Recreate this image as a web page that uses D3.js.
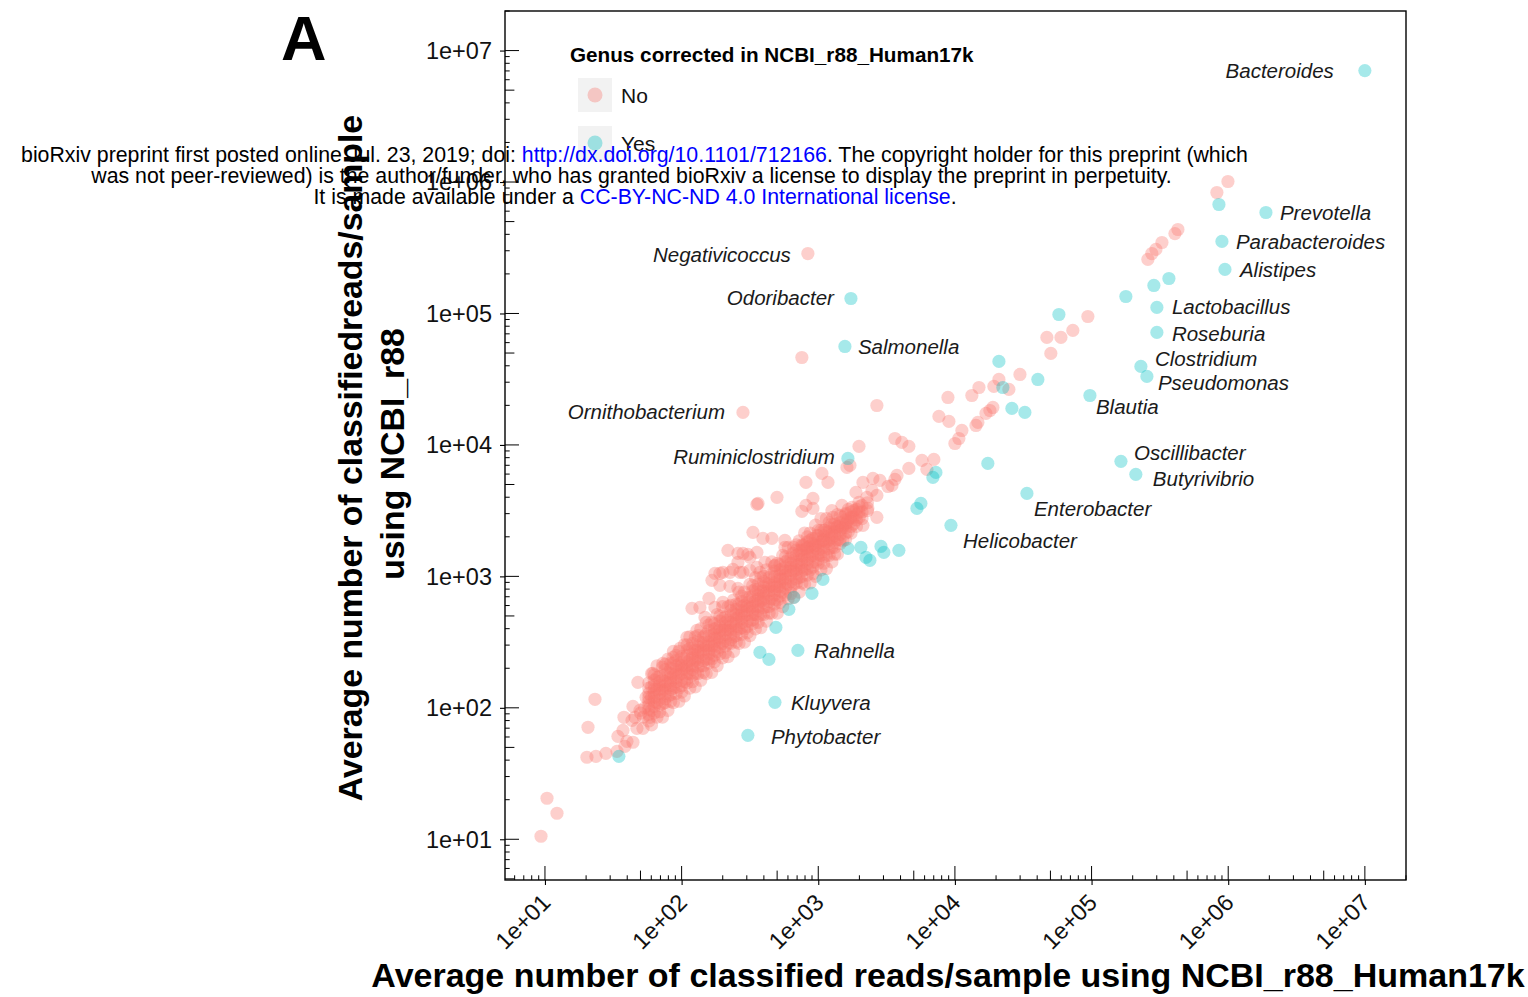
<!DOCTYPE html>
<html>
<head>
<meta charset="utf-8">
<script src="https://cdn.jsdelivr.net/npm/d3@7"></script>
<style>
  body { margin: 0; background: #fff; }
  svg { display: block; }
  text { font-family: "Liberation Sans", Arial, Helvetica, sans-serif; }
</style>
</head>
<body>
<svg id="chart" width="1528" height="997"></svg>
<script>
// Average classified reads per sample, genus level, stored as log10 values.
// x: NCBI_r88_Human17k database, y: NCBI_r88 database.

const decadeTicks = [1e1, 1e2, 1e3, 1e4, 1e5, 1e6, 1e7];
const decadeLabels = ["1e+01", "1e+02", "1e+03", "1e+04", "1e+05", "1e+06", "1e+07"];

const groupNames = ["No", "Yes"];
const groupColors = ["#F8766D", "#00BFC4"];

// Dense band of uncorrected genera: [log10 Human17k, [log10 r88 ...]]
const noBandLog10 = [
  [1.70, [1.96]], [1.72, [1.93]], [1.73, [2.00]], [1.74, [2.08]],
  [1.76, [1.90, 1.95, 1.99, 2.02, 2.05, 2.08, 2.11, 2.15, 2.19]],
  [1.78, [1.87, 1.98, 2.08, 2.16, 2.26]],
  [1.80, [1.96, 2.01, 2.05, 2.08, 2.11, 2.14, 2.17, 2.21, 2.25]],
  [1.82, [1.93, 2.04, 2.14, 2.23, 2.32]],
  [1.84, [1.97, 2.02, 2.06, 2.11, 2.14, 2.17, 2.20, 2.24]],
  [1.86, [1.93, 2.03, 2.13, 2.21, 2.31]],
  [1.88, [2.04, 2.07, 2.11, 2.14, 2.17, 2.20, 2.25, 2.29, 2.33]],
  [1.90, [1.98, 2.09, 2.19, 2.27, 2.37]],
  [1.92, [2.05, 2.10, 2.14, 2.17, 2.20, 2.23, 2.26, 2.30, 2.34]],
  [1.94, [2.04, 2.15, 2.25, 2.34, 2.43]],
  [1.96, [2.11, 2.16, 2.20, 2.23, 2.26, 2.29, 2.32, 2.36, 2.40]],
  [1.98, [2.05, 2.15, 2.25, 2.33, 2.43]],
  [2.00, [2.12, 2.17, 2.21, 2.26, 2.29, 2.32, 2.35, 2.39]],
  [2.02, [2.09, 2.20, 2.30, 2.38, 2.48]],
  [2.04, [2.19, 2.22, 2.26, 2.29, 2.32, 2.35, 2.40, 2.44, 2.48]],
  [2.06, [2.15, 2.26, 2.36, 2.45, 2.54]],
  [2.08, [2.20, 2.25, 2.29, 2.32, 2.35, 2.38, 2.41, 2.45, 2.49]],
  [2.10, [2.16, 2.26, 2.36, 2.44, 2.54]],
  [2.12, [2.26, 2.31, 2.35, 2.38, 2.41, 2.44, 2.47, 2.51, 2.55]],
  [2.14, [2.21, 2.32, 2.42, 2.50, 2.60]],
  [2.16, [2.27, 2.32, 2.36, 2.41, 2.44, 2.47, 2.50, 2.54]],
  [2.18, [2.26, 2.37, 2.47, 2.56, 2.65]],
  [2.20, [2.34, 2.37, 2.41, 2.44, 2.47, 2.50, 2.55, 2.59, 2.63]],
  [2.22, [2.27, 2.37, 2.47, 2.55, 2.65]],
  [2.24, [2.35, 2.40, 2.44, 2.47, 2.50, 2.53, 2.56, 2.60, 2.64]],
  [2.26, [2.32, 2.43, 2.53, 2.61, 2.71]],
  [2.28, [2.41, 2.46, 2.50, 2.53, 2.56, 2.59, 2.62, 2.66, 2.70]],
  [2.30, [2.38, 2.49, 2.59, 2.68, 2.77]],
  [2.32, [2.42, 2.47, 2.51, 2.56, 2.59, 2.62, 2.65, 2.69]],
  [2.34, [2.39, 2.49, 2.59, 2.67, 2.77]],
  [2.36, [2.49, 2.52, 2.56, 2.59, 2.62, 2.65, 2.70, 2.74, 2.78]],
  [2.38, [2.43, 2.54, 2.64, 2.72, 2.82]],
  [2.40, [2.50, 2.55, 2.59, 2.62, 2.65, 2.68, 2.71, 2.75, 2.79]],
  [2.42, [2.49, 2.60, 2.70, 2.79, 2.88]],
  [2.44, [2.56, 2.61, 2.65, 2.68, 2.71, 2.74, 2.77, 2.81, 2.85]],
  [2.46, [2.50, 2.60, 2.70, 2.78, 2.88]],
  [2.48, [2.57, 2.62, 2.66, 2.71, 2.74, 2.77, 2.80, 2.84]],
  [2.50, [2.55, 2.66, 2.76, 2.84, 2.94]],
  [2.52, [2.64, 2.67, 2.71, 2.74, 2.77, 2.80, 2.85, 2.89, 2.93]],
  [2.54, [2.60, 2.71, 2.81, 2.90, 2.99]],
  [2.56, [2.65, 2.70, 2.74, 2.77, 2.80, 2.83, 2.86, 2.90, 2.94]],
  [2.58, [2.61, 2.71, 2.81, 2.89, 2.99]],
  [2.60, [2.71, 2.76, 2.80, 2.83, 2.86, 2.89, 2.92, 2.96, 3.00]],
  [2.62, [2.66, 2.77, 2.87, 2.95, 3.05]],
  [2.64, [2.72, 2.77, 2.81, 2.86, 2.89, 2.92, 2.95, 2.99]],
  [2.66, [2.72, 2.83, 2.93, 3.02, 3.11]],
  [2.68, [2.79, 2.82, 2.86, 2.89, 2.92, 2.95, 3.00, 3.04, 3.08]],
  [2.70, [2.72, 2.82, 2.92, 3.00, 3.10]],
  [2.72, [2.80, 2.85, 2.89, 2.92, 2.95, 2.98, 3.01, 3.05, 3.09]],
  [2.74, [2.77, 2.88, 2.98, 3.06, 3.16]],
  [2.76, [2.86, 2.91, 2.95, 2.98, 3.01, 3.04, 3.07, 3.11, 3.15]],
  [2.78, [2.83, 2.94, 3.04, 3.13, 3.22]],
  [2.80, [2.87, 2.92, 2.96, 3.01, 3.04, 3.07, 3.10, 3.14]],
  [2.82, [2.84, 2.94, 3.04, 3.12, 3.22]],
  [2.84, [2.95, 2.98, 3.02, 3.05, 3.08, 3.11, 3.16, 3.20, 3.24]],
  [2.86, [2.88, 2.99, 3.09, 3.17, 3.27]],
  [2.88, [2.95, 3.00, 3.04, 3.07, 3.10, 3.13, 3.16, 3.20, 3.24]],
  [2.90, [2.94, 3.05, 3.15, 3.24, 3.33]],
  [2.92, [3.01, 3.06, 3.10, 3.13, 3.16, 3.19, 3.22, 3.26, 3.30]],
  [2.94, [2.95, 3.05, 3.15, 3.23, 3.33]],
  [2.96, [3.02, 3.07, 3.11, 3.16, 3.19, 3.22, 3.25, 3.29]],
  [2.98, [3.00, 3.11, 3.21, 3.29, 3.39]],
  [3.00, [3.10, 3.13, 3.17, 3.20, 3.23, 3.26, 3.31, 3.35]],
  [3.02, [3.05, 3.16, 3.26, 3.35, 3.44]],
  [3.04, [3.10, 3.15, 3.19, 3.22, 3.25, 3.28, 3.31, 3.35]],
  [3.06, [3.06, 3.16, 3.26, 3.34, 3.44]],
  [3.08, [3.16, 3.21, 3.25, 3.28, 3.31, 3.34, 3.37, 3.41]],
  [3.10, [3.11, 3.22, 3.32, 3.40, 3.50]],
  [3.12, [3.17, 3.22, 3.26, 3.31, 3.34, 3.37, 3.40]],
  [3.14, [3.17, 3.28, 3.38, 3.47]],
  [3.16, [3.25, 3.28, 3.32, 3.35, 3.38, 3.41, 3.46]],
  [3.18, [3.27, 3.37, 3.45]],
  [3.20, [3.28, 3.33, 3.37, 3.40, 3.43, 3.47]],
  [3.22, [3.34, 3.43, 3.51]],
  [3.24, [3.33, 3.38, 3.42, 3.45, 3.49]],
  [3.26, [3.40, 3.50]],
  [3.28, [3.38, 3.43, 3.47, 3.51]],
  [3.30, [3.45, 3.53]],
  [3.32, [3.44, 3.49, 3.54]],
  [3.36, [3.50, 3.56]]
];

// Remaining uncorrected genera (log10 Human17k, log10 r88)
const noHuman17kLog10 = [
  5.998, 5.917, 5.632, 5.610, 5.515, 5.471, 5.441, 5.412, 4.973, 4.863,
  4.776, 4.673, 4.702, 4.476, 4.322, 4.285, 4.395, 4.176, 4.124, 3.949,
  4.278, 4.256, 4.227, 4.168, 4.154, 4.051, 4.029, 4.000, 3.956, 3.883,
  3.429, 3.561, 3.612, 3.663, 3.298, 3.759, 3.846, 3.795, 3.663, 3.232,
  3.210, 3.576, 3.561, 3.400, 3.451, 3.510, 3.539, 3.327, 3.393, 3.429,
  3.276, 3.356, 3.298, 3.246, 3.298, 3.363, 3.429, 3.327, 3.202, 3.173,
  3.027, 3.071, 2.910, 2.961, 2.910, 2.880, 2.961, 2.698, 2.559, 2.522,
  2.595, 2.661, 2.756, 2.756, 2.339, 2.449, 2.500, 2.412, 2.244, 2.302,
  2.376, 2.449, 2.551, 2.610, 2.683, 2.815, 2.866, 2.917, 2.976, 3.034,
  3.100, 3.173, 3.210, 3.254, 3.107, 3.137, 3.049, 2.990, 2.939, 2.888,
  2.551, 2.412, 2.485, 2.551, 2.280, 2.354, 2.427, 2.500, 2.573, 2.222,
  2.280, 2.354, 2.412, 2.200, 2.134, 2.076, 2.244, 2.302, 2.171, 2.112,
  2.039, 1.988, 1.937, 1.863, 1.790, 1.680, 1.768, 1.717, 1.673, 1.637,
  1.659, 1.695, 1.644, 1.578, 1.571, 1.534, 1.600, 1.585, 1.644, 1.527,
  1.446, 1.373, 1.307, 1.315, 1.366, 1.015, 1.088, 0.971, 2.880
];
const noR88Log10 = [
  6.004, 5.920, 5.639, 5.608, 5.540, 5.487, 5.456, 5.411, 4.977, 4.871,
  4.818, 4.818, 4.696, 4.536, 4.498, 4.445, 4.422, 4.437, 4.376, 4.361,
  4.285, 4.262, 4.240, 4.171, 4.148, 4.110, 4.049, 4.011, 4.179, 4.217,
  4.300, 4.049, 4.019, 3.989, 3.989, 3.882, 3.890, 3.814, 3.821, 3.844,
  3.829, 3.768, 3.738, 3.745, 3.730, 3.684, 3.692, 3.715, 3.654, 3.616,
  3.639, 3.601, 3.563, 3.525, 3.487, 3.517, 3.449, 3.388, 3.479, 3.540,
  3.783, 3.715, 3.715, 3.593, 3.540, 3.494, 3.517, 3.601, 3.555, 3.335,
  3.289, 3.289, 3.274, 3.221, 3.198, 3.175, 3.144, 3.106, 3.023, 3.030,
  3.053, 3.030, 3.068, 3.106, 3.084, 3.175, 3.198, 3.213, 3.236, 3.274,
  3.297, 3.373, 3.411, 3.449, 3.449, 3.373, 3.350, 3.312, 3.274, 3.236,
  3.548, 3.175, 3.167, 3.183, 3.023, 3.030, 3.030, 3.046, 3.030, 2.970,
  2.932, 2.924, 2.909, 2.833, 2.764, 2.757, 2.764, 2.802, 2.688, 2.589,
  2.536, 2.452, 2.384, 2.338, 2.262, 2.194, 1.928, 1.844, 1.844, 1.905,
  1.928, 1.981, 2.011, 1.928, 1.829, 1.783, 1.745, 1.707, 1.738, 1.669,
  1.654, 1.631, 1.624, 1.852, 2.065, 1.312, 1.198, 1.023, 4.665
];

// Corrected genera without a name label
const yesHuman17kLog10 = [
  5.932, 5.456, 5.566, 5.251, 4.761, 4.322, 4.607, 4.351, 4.417, 4.512,
  4.241, 3.839, 3.861, 3.751, 3.722, 3.217, 3.312, 3.459, 3.480, 3.349,
  3.378, 3.590, 3.034, 2.954, 2.822, 2.785, 2.690, 2.573, 2.639, 1.541
];
const yesR88Log10 = [
  5.829, 5.213, 5.266, 5.129, 4.992, 4.635, 4.498, 4.437, 4.278, 4.247,
  3.859, 3.753, 3.791, 3.555, 3.517, 3.213, 3.221, 3.228, 3.183, 3.144,
  3.122, 3.198, 2.977, 2.871, 2.840, 2.749, 2.612, 2.422, 2.369, 1.631
];

// Named genera
const namedGenus = [
  "Bacteroides", "Prevotella", "Parabacteroides", "Alistipes", "Lactobacillus",
  "Roseburia", "Clostridium", "Pseudomonas", "Blautia", "Oscillibacter",
  "Butyrivibrio", "Enterobacter", "Helicobacter", "Ruminiclostridium", "Salmonella",
  "Odoribacter", "Rahnella", "Kluyvera", "Phytobacter", "Negativicoccus",
  "Ornithobacterium"
];
const namedHuman17kLog10 = [
  7.000, 6.276, 5.954, 5.976, 5.478, 5.478, 5.361, 5.405, 4.988, 5.215,
  5.324, 4.527, 3.971, 3.217, 3.195, 3.239, 2.851, 2.683, 2.485, 2.924,
  2.449
];
const namedR88Log10 = [
  6.848, 5.768, 5.548, 5.335, 5.046, 4.856, 4.597, 4.521, 4.376, 3.875,
  3.776, 3.631, 3.388, 3.897, 4.749, 5.114, 2.437, 2.042, 1.791, 5.456,
  4.247
];
const namedCorrected = [
  "Yes", "Yes", "Yes", "Yes", "Yes", "Yes", "Yes", "Yes", "Yes", "Yes",
  "Yes", "Yes", "Yes", "Yes", "Yes", "Yes", "Yes", "Yes", "Yes", "No",
  "No"
];

// ---- layout ----
const svg = d3.select("#chart");
const panel = { left: 505, top: 11, right: 1406, bottom: 880 };

const x = d3.scaleLog().domain([5.1, 2.0e7]).range([panel.left, panel.right]);
const y = d3.scaleLog().domain([4.9, 2.0e7]).range([panel.bottom, panel.top]);
const color = d3.scaleOrdinal().domain(groupNames).range(groupColors);
const fromLog = v => Math.pow(10, v);

const pointRadius = 6.6;
const pointOpacity = 0.35;

// Assemble point records
const noPoints = [];
noBandLog10.forEach(([hx, ys]) => ys.forEach(hy => noPoints.push({ h: fromLog(hx), r: fromLog(hy), g: "No" })));
noHuman17kLog10.forEach((hx, i) => noPoints.push({ h: fromLog(hx), r: fromLog(noR88Log10[i]), g: "No" }));
const yesPoints = yesHuman17kLog10.map((hx, i) => ({ h: fromLog(hx), r: fromLog(yesR88Log10[i]), g: "Yes" }));
const named = namedGenus.map((name, i) => ({
  name, h: fromLog(namedHuman17kLog10[i]), r: fromLog(namedR88Log10[i]), g: namedCorrected[i]
}));

// Panel clip
svg.append("defs").append("clipPath").attr("id", "panelClip")
  .append("rect")
  .attr("x", panel.left).attr("y", panel.top)
  .attr("width", panel.right - panel.left).attr("height", panel.bottom - panel.top);

const plot = svg.append("g").attr("clip-path", "url(#panelClip)");

const allPoints = noPoints.concat(named.filter(d => d.g === "No"))
  .concat(yesPoints).concat(named.filter(d => d.g === "Yes"));

plot.selectAll("circle.pt").data(allPoints).join("circle")
  .attr("class", "pt")
  .attr("cx", d => x(d.h))
  .attr("cy", d => y(d.r))
  .attr("r", pointRadius)
  .attr("fill", d => color(d.g))
  .attr("fill-opacity", pointOpacity);

// Log ticks drawn inside the panel (long at decades, mid at 5, short elsewhere)
function tickLen(v) {
  const lead = Math.round(v / Math.pow(10, Math.floor(Math.log10(v) + 1e-9)));
  return lead === 1 ? 14 : (lead === 5 ? 9.4 : 4.7);
}
const logTicks = svg.append("g").attr("stroke", "#000").attr("stroke-width", 1);
x.ticks().filter(v => x(v) >= panel.left && x(v) <= panel.right).forEach(v => {
  logTicks.append("line")
    .attr("x1", x(v)).attr("x2", x(v))
    .attr("y1", panel.bottom).attr("y2", panel.bottom - tickLen(v));
});
y.ticks().filter(v => y(v) >= panel.top && y(v) <= panel.bottom).forEach(v => {
  logTicks.append("line")
    .attr("y1", y(v)).attr("y2", y(v))
    .attr("x1", panel.left).attr("x2", panel.left + tickLen(v));
});

// Axes: outward ticks and labels
const xAxis = svg.append("g").attr("transform", `translate(0,${panel.bottom})`)
  .call(d3.axisBottom(x).tickValues(decadeTicks).tickSize(5).tickFormat(""));
const yAxis = svg.append("g").attr("transform", `translate(${panel.left},0)`)
  .call(d3.axisLeft(y).tickValues(decadeTicks).tickSize(5).tickFormat(""));
[xAxis, yAxis].forEach(a => {
  a.select(".domain").remove();
  a.selectAll(".tick line").attr("stroke", "#000").attr("stroke-width", 1.1);
});

svg.append("g").selectAll("text").data(decadeTicks).join("text")
  .attr("x", 492)
  .attr("y", d => y(d))
  .attr("dy", "0.35em")
  .attr("text-anchor", "end")
  .attr("font-size", 23.5)
  .attr("fill", "#111")
  .text((d, i) => decadeLabels[i]);

svg.append("g").selectAll("text").data(decadeTicks).join("text")
  .attr("transform", d => `translate(${x(d) + 7},904) rotate(-45)`)
  .attr("text-anchor", "end")
  .attr("font-size", 23.5)
  .attr("fill", "#111")
  .text((d, i) => decadeLabels[i]);

// Panel border
svg.append("rect")
  .attr("x", panel.left).attr("y", panel.top)
  .attr("width", panel.right - panel.left).attr("height", panel.bottom - panel.top)
  .attr("fill", "none").attr("stroke", "#000").attr("stroke-width", 1.4);

// Genus labels
const labelPlacement = {
  Bacteroides: [-31, 7, "end"],
  Prevotella: [14, 7, "start"],
  Parabacteroides: [14, 8, "start"],
  Alistipes: [15, 8, "start"],
  Lactobacillus: [15, 7, "start"],
  Roseburia: [15, 9, "start"],
  Clostridium: [14, 0, "start"],
  Pseudomonas: [11, 14, "start"],
  Blautia: [6, 19, "start"],
  Oscillibacter: [13, -1, "start"],
  Butyrivibrio: [17, 12, "start"],
  Enterobacter: [7, 23, "start"],
  Helicobacter: [12, 23, "start"],
  Ruminiclostridium: [-13, 6, "end"],
  Salmonella: [13, 8, "start"],
  Odoribacter: [-17, 7, "end"],
  Rahnella: [16, 8, "start"],
  Kluyvera: [16, 8, "start"],
  Phytobacter: [23, 9, "start"],
  Negativicoccus: [-17, 8, "end"],
  Ornithobacterium: [-18, 7, "end"]
};
svg.append("g").selectAll("text").data(named).join("text")
  .attr("x", d => x(d.h) + labelPlacement[d.name][0])
  .attr("y", d => y(d.r) + labelPlacement[d.name][1])
  .attr("text-anchor", d => labelPlacement[d.name][2])
  .attr("font-size", 20.5)
  .attr("font-style", "italic")
  .attr("fill", "#1a1a1a")
  .text(d => d.name);

// Axis titles
svg.append("text")
  .attr("x", 948).attr("y", 987)
  .attr("text-anchor", "middle")
  .attr("font-size", 34).attr("font-weight", "bold")
  .text("Average number of classified reads/sample using NCBI_r88_Human17k");

const yTitle = svg.append("g");
yTitle.append("text")
  .attr("transform", "translate(362,458) rotate(-90)")
  .attr("text-anchor", "middle")
  .attr("font-size", 33.8).attr("font-weight", "bold")
  .text("Average number of classifiedreads/sample");
yTitle.append("text")
  .attr("transform", "translate(404,454) rotate(-90)")
  .attr("text-anchor", "middle")
  .attr("font-size", 33.8).attr("font-weight", "bold")
  .text("using NCBI_r88");

// Panel tag
svg.append("text")
  .attr("x", 281).attr("y", 60)
  .attr("font-size", 63).attr("font-weight", "bold")
  .text("A");

// Legend
const legend = svg.append("g");
legend.append("text")
  .attr("x", 570).attr("y", 62)
  .attr("font-size", 20.7).attr("font-weight", "bold")
  .text("Genus corrected in NCBI_r88_Human17k");
const keys = legend.selectAll("g.key").data(groupNames).join("g")
  .attr("class", "key")
  .attr("transform", (d, i) => `translate(578,${78 + i * 48})`);
keys.append("rect").attr("width", 34).attr("height", 34).attr("fill", "#f2f2f2");
keys.append("circle").attr("cx", 17).attr("cy", 17).attr("r", 7.5)
  .attr("fill", d => color(d)).attr("fill-opacity", pointOpacity);
keys.append("text").attr("x", 43).attr("y", 25)
  .attr("font-size", 21).attr("fill", "#111")
  .text(d => d);

// Preprint notice printed across the figure
const notice = svg.append("g").attr("font-size", 21.3).attr("text-anchor", "middle").attr("fill", "#000");
const l1 = notice.append("text").attr("x", 634.5).attr("y", 162);
l1.append("tspan").text("bioRxiv preprint first posted online Jul. 23, 2019; doi: ");
l1.append("tspan").attr("fill", "#0000ff").text("http://dx.doi.org/10.1101/712166");
l1.append("tspan").text(". The copyright holder for this preprint (which");
notice.append("text").attr("x", 631.5).attr("y", 183)
  .text("was not peer-reviewed) is the author/funder, who has granted bioRxiv a license to display the preprint in perpetuity.");
const l3 = notice.append("text").attr("x", 635).attr("y", 204);
l3.append("tspan").text("It is made available under a ");
l3.append("tspan").attr("fill", "#0000ff").text("CC-BY-NC-ND 4.0 International license");
l3.append("tspan").text(".");
</script>
</body>
</html>
